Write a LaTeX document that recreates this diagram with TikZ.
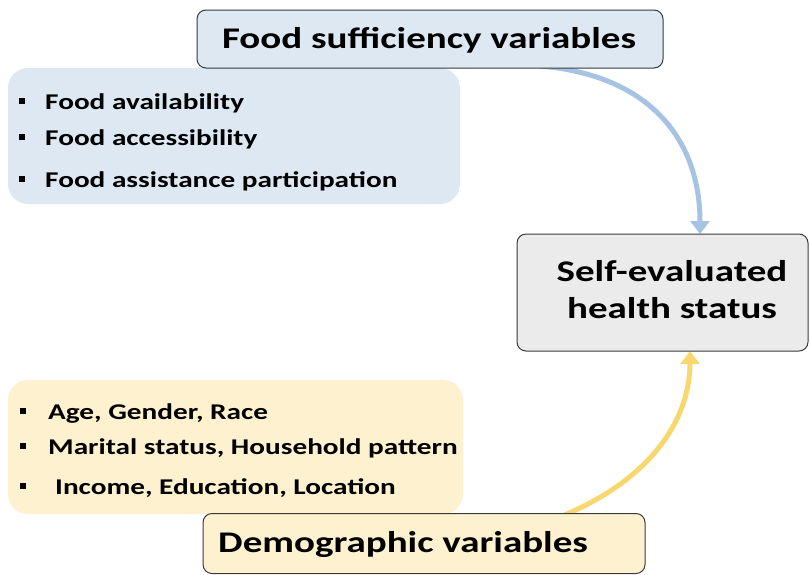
\documentclass[tikz,border=0pt]{standalone}
\usepackage{fontspec}
\setmainfont{Carlito}
\newfontfamily\widefont{Carlito}[FakeStretch=1.3]
\usetikzlibrary{arrows.meta}
\definecolor{bluefill}{HTML}{DEE8F3}
\definecolor{bluearr}{HTML}{A6C3E3}
\definecolor{yelfill}{HTML}{FDF1D0}
\definecolor{yelarr}{HTML}{F8D86E}
\definecolor{grayfill}{HTML}{EBEBEB}
\definecolor{edge}{HTML}{3A3A3A}
\tikzset{
  titlebox/.style={draw=edge, line width=1pt, rounded corners=9pt, font=\widefont\bfseries\fontsize{30}{37}\selectfont, inner sep=0pt},
  titletext/.style={font=\widefont\bfseries\fontsize{30}{37}\selectfont, inner sep=0pt},
  listbox/.style={rounded corners=20pt, inner sep=0pt},
  item/.style={anchor=base west, font=\widefont\bfseries\fontsize{22.5}{26}\selectfont, inner sep=0pt},
  bul/.style={anchor=center, fill=black, minimum size=5.5pt, inner sep=0pt},
  flow/.style={line width=5pt, -{Triangle[width=19pt,length=13pt]}}
}
\begin{document}
\begin{tikzpicture}[x=1pt,y=-1pt]
\useasboundingbox (0,0) rectangle (810,574);
% list boxes
\node[listbox, fill=bluefill, minimum width=452pt, minimum height=136pt] (flist) at (234,136) {};
\node[listbox, fill=yelfill, minimum width=455pt, minimum height=134pt] (dlist) at (235.5,447) {};
% arrows
\coordinate (bs) at (540,66);
\coordinate (be) at (700,234);
\coordinate (ys) at (562,516);
\coordinate (ye) at (690,351);
\draw[flow, draw=bluearr, color=bluearr] (bs) .. controls (650,75) and (700,140) .. (be);
\draw[flow, draw=yelarr, color=yelarr] (ys) .. controls (650,480) and (690,420) .. (ye);
% title boxes
\node[titlebox, fill=bluefill, minimum width=466pt, minimum height=58pt] (food) at (430,39) {};
\node[titletext] (foodtxt) at (429,40) {Food sufficiency variables};
\node[titlebox, fill=grayfill, minimum width=291pt, minimum height=117pt] (health) at (662.5,292.5) {};
\node[titletext, align=center] (healthtxt) at (672,290) {Self-evaluated\\health status};
\node[titlebox, fill=yelfill, minimum width=442pt, minimum height=60pt, anchor=north] (demo) at (424,513) {};
\node[titletext, anchor=west] (demotxt) at (218,545) {Demographic variables};
% food items
\node[bul] (b1) at (22,101) {};
\node[item] (i1) at (45,109) {Food availability};
\node[bul] (b2) at (22,137) {};
\node[item] (i2) at (45,145) {Food accessibility};
\node[bul] (b3) at (22,179) {};
\node[item] (i3) at (45,187) {Food assistance participation};
% demo items
\node[bul] (c1) at (23,411) {};
\node[item] (j1) at (48,419) {Age, Gender, Race};
\node[bul] (c2) at (23,446) {};
\node[item] (j2) at (48,454) {Marital status, Household pattern};
\node[bul] (c3) at (23,486) {};
\node[item] (j3) at (55,494) {Income, Education, Location};
\end{tikzpicture}
\end{document}
